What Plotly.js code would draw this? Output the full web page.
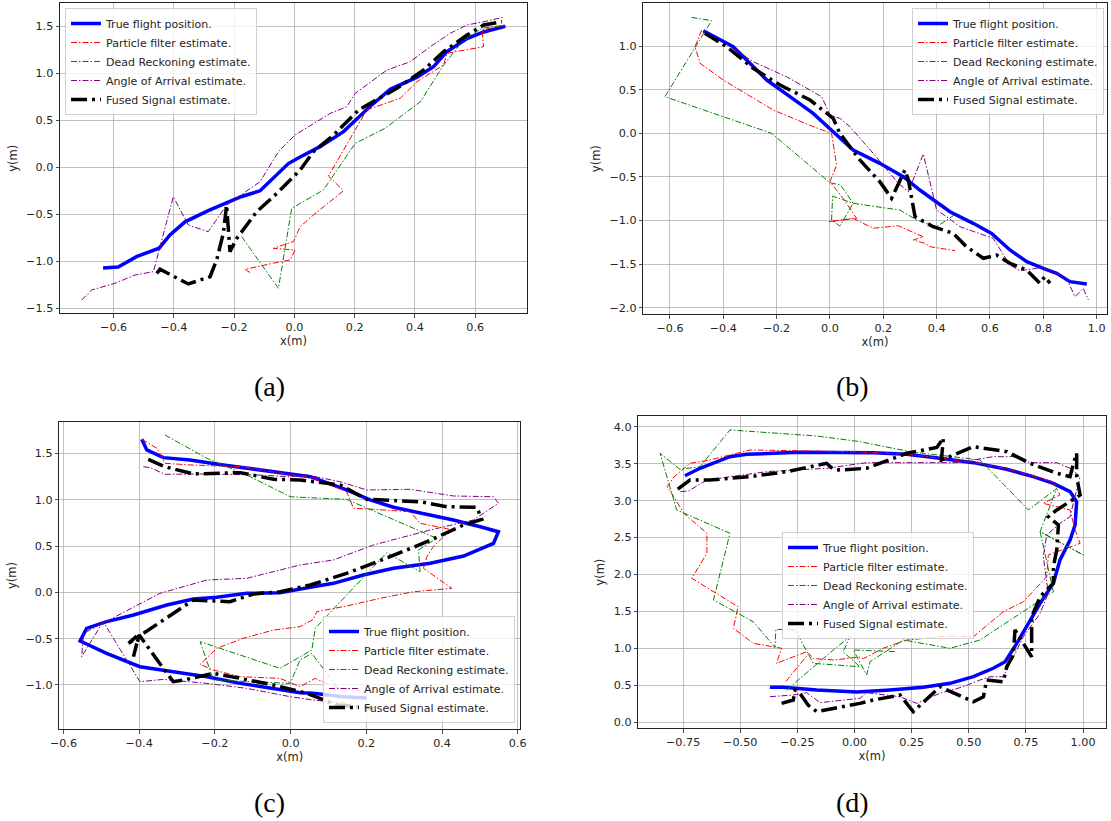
<!DOCTYPE html>
<html>
<head>
<meta charset="utf-8">
<script src="https://cdn.plot.ly/plotly-3.0.1.min.js"></script>
<style>html,body{margin:0;padding:0;background:#fff;}#chart{width:1111px;height:821px;}</style>
</head>
<body>
<div id="chart"></div>
<script>
// ---------- labels ----------
const seriesNames = ['True flight position.', 'Particle filter estimate.', 'Dead Reckoning estimate.', 'Angle of Arrival estimate.', 'Fused Signal estimate.'];
const panelLabels = ['(a)', '(b)', '(c)', '(d)'];
const axisTitleX = 'x(m)';
const axisTitleY = 'y(m)';

// ---------- tick values ----------
const aTickX = [-0.6, -0.4, -0.2, 0.0, 0.2, 0.4, 0.6];
const aTickY = [-1.5, -1.0, -0.5, 0.0, 0.5, 1.0, 1.5];
const bTickX = [-0.6, -0.4, -0.2, 0.0, 0.2, 0.4, 0.6, 0.8, 1.0];
const bTickY = [-2.0, -1.5, -1.0, -0.5, 0.0, 0.5, 1.0];
const cTickX = [-0.6, -0.4, -0.2, 0.0, 0.2, 0.4, 0.6];
const cTickY = [-1.0, -0.5, 0.0, 0.5, 1.0, 1.5];
const dTickX = [-0.75, -0.50, -0.25, 0.00, 0.25, 0.50, 0.75, 1.00];
const dTickY = [0.0, 0.5, 1.0, 1.5, 2.0, 2.5, 3.0, 3.5, 4.0];

// ---------- panel (a) ----------
const aTrueX = [-0.635,-0.585,-0.524,-0.449,-0.413,-0.363,-0.286,-0.225,-0.175,-0.114,-0.070,-0.020,0.019,0.085,0.163,0.202,0.252,0.318,0.351,0.407,0.462,0.506,0.573,0.628,0.700];
const aTrueY = [-1.07,-1.06,-0.95,-0.86,-0.72,-0.58,-0.46,-0.38,-0.31,-0.25,-0.12,0.04,0.11,0.22,0.38,0.50,0.65,0.83,0.88,0.96,1.07,1.23,1.37,1.44,1.50];
const aPfX = [-0.147,-0.164,-0.070,-0.014,0.002,-0.070,-0.003,0.019,0.063,0.119,0.163,0.113,0.240,0.351,0.407,0.495,0.506,0.628,0.623,0.700];
const aPfY = [-1.12,-1.085,-1.02,-0.986,-0.88,-0.862,-0.79,-0.632,-0.507,-0.366,-0.249,-0.093,0.61,0.734,0.911,1.088,1.213,1.283,1.461,1.514];
const aDrX = [-0.175,-0.053,-0.009,0.096,0.202,0.301,0.418,0.495,0.561,0.623,0.700];
const aDrY = [-0.738,-1.287,-0.436,-0.242,0.255,0.415,0.698,1.088,1.354,1.479,1.514];
const aAoaX = [-0.706,-0.673,-0.596,-0.529,-0.468,-0.402,-0.352,-0.286,-0.225,-0.114,-0.053,0.002,0.119,0.174,0.202,0.307,0.384,0.451,0.517,0.573,0.628,0.694];
const aAoaY = [-1.412,-1.305,-1.234,-1.146,-1.110,-0.313,-0.614,-0.685,-0.401,-0.153,0.166,0.344,0.574,0.645,0.787,1.035,1.123,1.283,1.426,1.514,1.549,1.596];
const aFusedX = [-0.457,-0.446,-0.352,-0.280,-0.258,-0.236,-0.225,-0.214,-0.191,-0.125,-0.058,-0.003,0.019,0.063,0.130,0.213,0.274,0.340,0.429,0.495,0.573,0.628,0.689];
const aFusedY = [-1.128,-1.085,-1.241,-1.164,-0.986,-0.702,-0.401,-0.898,-0.755,-0.472,-0.277,-0.100,-0.029,0.166,0.344,0.610,0.716,0.840,1.035,1.230,1.407,1.514,1.549];

// ---------- panel (b) ----------
const bTrueX = [-0.475,-0.400,-0.363,-0.306,-0.237,-0.150,-0.063,0.012,0.087,0.187,0.275,0.337,0.400,0.450,0.537,0.606,0.675,0.738,0.800,0.850,0.900,0.963];
const bTrueY = [1.177,1.050,0.993,0.821,0.611,0.420,0.229,0.018,-0.192,-0.344,-0.498,-0.650,-0.784,-0.899,-1.032,-1.147,-1.338,-1.472,-1.548,-1.606,-1.701,-1.728];
const bPfX = [-0.481,-0.506,-0.487,-0.400,-0.213,-0.063,0.006,0.025,0.000,0.050,0.100,-0.006,0.087,0.162,0.256,0.350,0.312,0.356,0.375,0.469];
const bPfY = [1.185,0.993,0.803,0.611,0.267,0.076,0.000,-0.364,-0.555,-0.750,-0.975,-1.014,-0.975,-1.089,-1.060,-1.186,-1.224,-1.261,-1.300,-1.346];
const bDrX = [-0.519,-0.444,-0.619,-0.219,0.000,0.040,0.087,0.037,0.006,0.010,0.087,0.262,0.325,0.400,0.475];
const bDrY = [1.330,1.292,0.420,0.000,-0.567,-0.593,-0.803,-1.063,-0.994,-0.720,-0.803,-0.880,-0.994,-1.071,-0.918];
const bAoaX = [-0.394,-0.288,-0.163,-0.031,0.000,0.037,0.075,0.162,0.256,0.294,0.350,0.400,0.437,0.487,0.612,0.675,0.712,0.800,0.887,0.919,0.950,0.969];
const bAoaY = [1.039,0.821,0.649,0.420,0.210,0.172,0.076,-0.229,-0.573,-0.670,-0.237,-0.880,-0.956,-1.071,-1.204,-1.510,-1.576,-1.537,-1.663,-1.874,-1.778,-1.912];
const bFusedX = [-0.469,-0.387,-0.288,-0.187,-0.075,0.012,0.037,0.075,0.112,0.187,0.231,0.281,0.294,0.319,0.387,0.462,0.512,0.575,0.625,0.675,0.738,0.787,0.806,0.825];
const bFusedY = [1.147,0.993,0.745,0.554,0.382,0.172,0.000,-0.154,-0.306,-0.555,-0.745,-0.421,-0.536,-0.956,-1.071,-1.147,-1.300,-1.433,-1.396,-1.491,-1.568,-1.720,-1.644,-1.720];

// ---------- panel (c) ----------
const cTrueX = [-0.393,-0.380,-0.336,-0.266,-0.178,-0.089,-0.001,0.052,0.148,0.210,0.272,0.351,0.430,0.501,0.549,0.536,0.457,0.369,0.272,0.192,0.113,0.052,-0.028,-0.116,-0.195,-0.257,-0.327,-0.415,-0.486,-0.539,-0.556,-0.486,-0.398,-0.310,-0.221,-0.133,-0.045,0.025,0.060,0.139,0.200];
const cTrueY = [1.652,1.537,1.454,1.429,1.375,1.328,1.278,1.248,1.105,0.997,0.918,0.853,0.781,0.708,0.654,0.529,0.392,0.313,0.259,0.187,0.097,0.054,-0.004,-0.011,-0.054,-0.072,-0.137,-0.245,-0.317,-0.389,-0.526,-0.659,-0.803,-0.857,-0.911,-0.983,-1.037,-1.084,-1.091,-1.127,-1.140];
const cPfX = [-0.393,-0.353,-0.332,-0.266,-0.133,-0.045,0.060,0.148,0.166,0.219,0.316,0.342,0.430,0.404,0.377,0.360,0.351,0.426,0.324,0.236,0.148,0.069,0.060,0.025,-0.045,-0.125,-0.195,-0.239,-0.204,-0.133,-0.028,0.025,0.065,0.113,0.180];
const cPfY = [1.652,1.555,1.393,1.375,1.356,1.302,1.231,1.086,0.907,0.896,0.870,0.745,0.673,0.600,0.492,0.384,0.259,0.043,0.006,-0.065,-0.148,-0.209,-0.292,-0.371,-0.407,-0.497,-0.605,-0.778,-0.839,-0.911,-0.929,-1.019,-0.929,-1.019,-1.060];
const cDrX = [-0.332,-0.221,-0.116,-0.001,0.025,0.148,0.386,0.338,0.342,0.254,0.065,0.056,-0.028,-0.173,-0.239,-0.204,-0.001,0.025,0.056,0.122];
const cDrY = [1.699,1.447,1.267,1.032,1.026,1.004,0.583,0.457,0.222,0.428,-0.389,-0.623,-0.821,-0.623,-0.533,-0.947,-0.983,-0.731,-0.659,-1.019];
const cAoaX = [-0.389,-0.371,-0.332,-0.221,-0.089,-0.001,0.043,0.131,0.201,0.316,0.430,0.536,0.549,0.483,0.369,0.219,0.113,0.025,-0.116,-0.221,-0.345,-0.420,-0.547,-0.552,-0.495,-0.398,-0.336,-0.221,-0.116,-0.001,0.060,0.150];
const cAoaY = [1.356,1.346,1.274,1.278,1.267,1.248,1.267,1.194,1.105,1.112,1.040,1.032,0.961,0.781,0.673,0.511,0.349,0.295,0.151,0.133,-0.011,-0.170,-0.443,-0.695,-0.317,-0.965,-0.940,-0.983,-1.037,-1.127,-1.163,-1.200];
const cFusedX = [-0.376,-0.332,-0.257,-0.133,-0.045,0.025,0.131,0.201,0.342,0.413,0.492,0.505,0.457,0.360,0.263,0.148,0.052,-0.028,-0.098,-0.160,-0.257,-0.428,-0.400,-0.415,-0.400,-0.349,-0.310,-0.274,-0.204,-0.133,-0.045,0.043,0.122,0.219];
const cFusedY = [1.436,1.356,1.278,1.292,1.220,1.213,1.159,1.004,0.978,0.924,0.918,0.788,0.727,0.546,0.384,0.205,0.079,0.006,-0.018,-0.101,-0.083,-0.551,-0.450,-0.695,-0.460,-0.749,-0.965,-0.940,-0.875,-0.929,-1.001,-1.091,-1.217,-1.253];

// ---------- panel (d) ----------
const dTrueX = [-0.370,-0.312,-0.165,0.010,0.155,0.301,0.418,0.520,0.607,0.659,0.710,0.754,0.812,0.870,0.899,0.943,0.965,0.972,0.943,0.870,0.782,0.666,0.520,0.374,0.228,0.082,-0.093,-0.239,-0.355,-0.472,-0.545,-0.676,-0.742];
const dTrueY = [0.470,0.470,0.434,0.408,0.434,0.470,0.524,0.614,0.728,0.817,1.066,1.291,1.608,1.879,2.195,2.466,2.669,2.985,3.121,3.234,3.324,3.424,3.514,3.573,3.627,3.649,3.654,3.654,3.641,3.627,3.595,3.438,3.337];
const dPfX = [-0.300,-0.200,-0.180,-0.090,0.020,0.040,0.126,0.228,0.404,0.520,0.651,0.739,0.841,0.848,0.987,0.965,0.943,0.826,0.899,0.870,0.782,0.666,0.520,0.374,0.228,-0.020,-0.239,-0.457,-0.545,-0.633,-0.720,-0.790,-0.820,-0.790,-0.747,-0.646,-0.646,-0.712,-0.509,-0.530,-0.443,-0.319,-0.341,-0.209];
const dPfY = [0.550,0.930,0.860,0.840,0.880,0.860,1.000,1.110,1.165,1.156,1.495,1.630,1.969,2.263,2.421,2.602,2.873,2.963,3.076,3.256,3.330,3.430,3.520,3.580,3.630,3.663,3.676,3.686,3.618,3.550,3.505,3.320,3.190,3.050,2.828,2.557,2.286,1.947,1.562,1.270,1.066,0.999,0.795,0.953];
const dDrX = [-0.297,-0.093,-0.020,-0.050,0.024,-0.180,-0.260,-0.344,-0.348,-0.443,-0.617,-0.545,-0.778,-0.851,-0.764,-0.676,-0.545,-0.165,0.020,0.243,0.549,0.761,0.885,0.812,1.001,0.812,0.870,0.549,0.418,0.214,0.068,0.053,-0.005,0.185];
const dDrY = [0.434,0.976,1.156,0.950,0.749,0.795,1.247,1.256,1.012,1.359,1.653,2.557,2.873,3.641,3.424,3.459,3.957,3.875,3.800,3.663,3.550,2.873,3.166,2.579,2.263,2.579,1.766,1.111,0.999,1.111,0.817,0.637,0.976,0.953];
const dAoaX = [-0.370,-0.268,-0.209,-0.151,0.024,0.053,0.199,0.272,0.374,0.476,0.549,0.593,0.651,0.739,0.812,0.848,0.826,0.841,0.899,0.943,0.960,0.987,0.943,0.885,0.768,0.695,0.607,0.447,0.053,-0.122,-0.384,-0.646,-0.727,-0.764];
const dAoaY = [0.343,0.366,0.397,0.262,0.321,0.397,0.343,0.253,0.389,0.479,0.569,0.614,0.614,1.156,1.473,1.744,2.240,2.534,2.692,2.782,3.000,3.324,3.438,3.514,3.514,3.595,3.595,3.514,3.514,3.438,3.392,3.279,3.130,3.121];
const dFusedX = [-0.319,-0.268,-0.260,-0.239,-0.203,-0.165,0.024,0.082,0.199,0.257,0.374,0.520,0.564,0.578,0.651,0.666,0.695,0.702,0.775,0.775,0.812,0.870,0.870,0.885,0.892,0.848,0.885,0.987,0.972,0.972,0.958,0.943,0.885,0.768,0.666,0.520,0.380,0.389,0.360,0.228,0.053,-0.063,-0.093,-0.122,-0.297,-0.457,-0.633,-0.720,-0.778];
const dFusedY = [0.253,0.298,0.434,0.389,0.230,0.140,0.253,0.298,0.366,0.140,0.478,0.275,0.343,0.569,0.546,0.749,0.908,1.247,0.885,1.427,1.698,1.879,2.104,2.331,2.669,2.782,2.873,3.076,3.324,3.641,3.505,3.324,3.370,3.505,3.663,3.730,3.550,3.850,3.720,3.641,3.438,3.415,3.424,3.505,3.392,3.324,3.279,3.279,3.144];

// ---------- styling ----------
const lineStyles = [
  {color: '#0000ff', width: 3.5, dash: 'solid'},
  {color: '#ff0000', width: 1, dash: '6px,2px,1.5px,2px'},
  {color: '#008000', width: 1, dash: '6px,2px,1.5px,2px'},
  {color: '#800080', width: 1, dash: '6px,2px,1.5px,2px'},
  {color: '#000000', width: 3.5, dash: '16px,5px,3px,5px'}
];

const panels = [
  {xs: [aTrueX, aPfX, aDrX, aAoaX, aFusedX], ys: [aTrueY, aPfY, aDrY, aAoaY, aFusedY], xa: 'x', ya: 'y', leg: 'legend'},
  {xs: [bTrueX, bPfX, bDrX, bAoaX, bFusedX], ys: [bTrueY, bPfY, bDrY, bAoaY, bFusedY], xa: 'x2', ya: 'y2', leg: 'legend2'},
  {xs: [cTrueX, cPfX, cDrX, cAoaX, cFusedX], ys: [cTrueY, cPfY, cDrY, cAoaY, cFusedY], xa: 'x3', ya: 'y3', leg: 'legend3'},
  {xs: [dTrueX, dPfX, dDrX, dAoaX, dFusedX], ys: [dTrueY, dPfY, dDrY, dAoaY, dFusedY], xa: 'x4', ya: 'y4', leg: 'legend4'}
];

const traces = [];
panels.forEach(p => {
  for (let i = 0; i < 5; i++) {
    traces.push({
      type: 'scatter', mode: 'lines',
      x: p.xs[i], y: p.ys[i],
      xaxis: p.xa, yaxis: p.ya,
      name: seriesNames[i],
      legend: p.leg,
      line: Object.assign({}, lineStyles[i]),
      hoverinfo: 'skip'
    });
  }
});

const W = 1111, H = 821;
const tickFont = {family: 'DejaVu Sans, sans-serif', size: 11.2, color: '#262626'};
const titleFont = {family: 'DejaVu Sans, sans-serif', size: 11.5, color: '#262626'};

function ax(domain, range, tickvals, fmt, title, standoff, anchor) {
  return {
    domain: domain, range: range, autorange: false, anchor: anchor,
    tickmode: 'array', tickvals: tickvals, tickformat: fmt,
    showgrid: true, gridcolor: '#b0b0b0', gridwidth: 0.8,
    zeroline: false,
    showline: true, mirror: true, linecolor: '#222', linewidth: 1,
    ticks: 'outside', ticklen: 3.5, tickwidth: 0.8, tickcolor: '#222',
    tickfont: tickFont,
    title: {text: title, font: titleFont, standoff: standoff},
    automargin: false
  };
}

function px(v) { return v / W; }
function py(v) { return (H - v) / H; }

const legendBase = {
  font: {family: 'DejaVu Sans, sans-serif', size: 11, color: '#262626'},
  bgcolor: 'rgba(255,255,255,0.8)', bordercolor: '#d0d0d0', borderwidth: 1,
  itemwidth: 30, tracegroupgap: 0
};

const labelFont = {family: 'Liberation Serif, DejaVu Serif, serif', size: 28, color: '#000'};
function panelLabel(text, x, y) {
  return {text: text, x: px(x), y: py(y), xref: 'paper', yref: 'paper', xanchor: 'center', yanchor: 'middle', showarrow: false, font: labelFont};
}

const layout = {
  width: W, height: H,
  margin: {l: 0, r: 0, t: 0, b: 0},
  paper_bgcolor: '#ffffff', plot_bgcolor: '#ffffff',
  showlegend: true,
  xaxis:  ax([px(60), px(527)], [-0.778, 0.772], aTickX, '.1f', axisTitleX, 3, 'y'),
  yaxis:  ax([py(313.3), py(3.3)], [-1.553, 1.745], aTickY, '.1f', axisTitleY, 6, 'x'),
  xaxis2: ax([px(643.3), px(1106.5)], [-0.700, 1.037], bTickX, '.1f', axisTitleX, 3, 'y2'),
  yaxis2: ax([py(314), py(3.3)], [-2.072, 1.491], bTickY, '.1f', axisTitleY, 6, 'x2'),
  xaxis3: ax([px(59.3), px(520)], [-0.611, 0.606], cTickX, '.1f', axisTitleX, 3, 'y3'),
  yaxis3: ax([py(729.3), py(421.7)], [-1.479, 1.842], cTickY, '.1f', axisTitleY, 6, 'x3'),
  xaxis4: ax([px(638.3), px(1105.7)], [-0.946, 1.099], dTickX, '.2f', axisTitleX, 3, 'y4'),
  yaxis4: ax([py(728.3), py(416)], [-0.085, 4.146], dTickY, '.1f', axisTitleY, 6, 'x4'),
  legend:  Object.assign({}, legendBase, {x: px(65), y: py(8), xanchor: 'left', yanchor: 'top'}),
  legend2: Object.assign({}, legendBase, {x: px(1104), y: py(8), xanchor: 'right', yanchor: 'top'}),
  legend3: Object.assign({}, legendBase, {x: px(515), y: py(723), xanchor: 'right', yanchor: 'bottom'}),
  legend4: Object.assign({}, legendBase, {x: px(782), y: py(532), xanchor: 'left', yanchor: 'top'}),
  annotations: [
    panelLabel(panelLabels[0], 269, 386),
    panelLabel(panelLabels[1], 852, 386),
    panelLabel(panelLabels[2], 269, 802),
    panelLabel(panelLabels[3], 852, 802)
  ]
};

Plotly.newPlot('chart', traces, layout, {displayModeBar: false, staticPlot: true});
</script>
</body>
</html>
